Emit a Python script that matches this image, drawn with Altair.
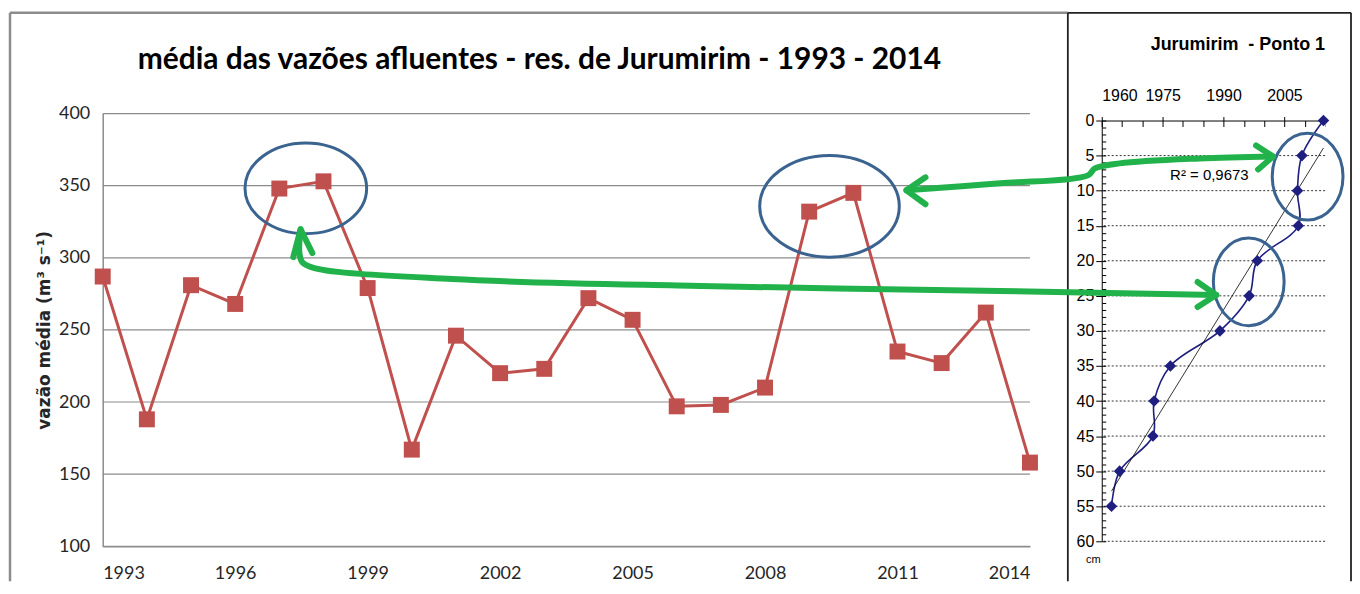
import altair as alt
import pandas as pd

# ---------------- left panel: mean inflow ----------------
anos = list(range(1993, 2015))
vazao_media = [287, 188, 281, 268, 348, 353, 279, 167, 246, 220, 223, 272,
               257, 197, 198, 210, 332, 345, 235, 227, 262, 158]
anos_rotulos = [1993, 1996, 1999, 2002, 2005, 2008, 2011, 2014]
vazao_rotulos = [100, 150, 200, 250, 300, 350, 400]

# ---------------- right panel: sediment core dating ----------------
profundidade = [0, 5, 10, 15, 20, 25, 30, 35, 40, 45, 50, 55]
ano_camada = [2014.6, 2009.3, 2008.2, 2008.4, 1998.3, 1996.3, 1989.1,
              1976.9, 1972.9, 1972.6, 1964.4, 1962.4]
ano_rotulos = [1960, 1975, 1990, 2005]
ano_marcas = [1960, 1965, 1970, 1975, 1980, 1985, 1990, 1995, 2000, 2005, 2010, 2015]
prof_rotulos = [0, 5, 10, 15, 20, 25, 30, 35, 40, 45, 50, 55, 60]
prof_marcas = list(range(0, 61))
r2_texto = ["R² = 0,9673"]
r2_ano = [1986.5]
r2_prof = [7.7]

# ---------------- annotations (data units of each panel) ----------------
elipse_esq_ano = [1997.6, 2009.46]
elipse_esq_vazao = [348.2, 335.7]
elipse_esq_rx = [61, 70]
elipse_esq_ry = [45.5, 51]
elipse_dir_ano = [2010.7, 1996.2]
elipse_dir_prof = [8.0, 23.0]
elipse_dir_rx = [35.5, 35.5]
elipse_dir_ry = [43.5, 44]

seta1_ano = [1911.9, 1935.0, 1956.6, 1958.3, 1964.4, 1984.1, 2002.2]
seta1_prof = [9.95, 8.96, 7.82, 6.83, 6.11, 5.40, 5.12]
seta1_pontaA_ano = [1916.6, 1911.9, 1916.6]
seta1_pontaA_prof = [8.10, 9.95, 11.94]
seta1_pontaB_ano = [1998.0, 2002.2, 1998.5]
seta1_pontaB_prof = [3.55, 5.12, 6.97]
seta2_ano = [1762.7, 1762.4, 1763.1, 1766.1, 1800.0, 1861.3, 1935.0, 1988.2]
seta2_prof = [15.50, 18.77, 20.19, 21.04, 22.61, 23.60, 24.31, 24.88]
seta2_pontaA_ano = [1760.9, 1762.7, 1765.6]
seta2_pontaA_prof = [19.48, 15.50, 18.91]
seta2_pontaB_ano = [1983.6, 1988.2, 1983.6]
seta2_pontaB_prof = [23.03, 24.88, 26.59]

VERMELHO = "#C0504D"
AZUL_ESC = "#1F1F80"
AZUL_ELIPSE = "#3B6390"
VERDE = "#22B24C"
CINZA = "#8C8C8C"
CALIBRI = "Lato"
ARIAL = "Liberation Sans"
SEM_BORDA = alt.ViewBackground(stroke="transparent", strokeWidth=0, strokeOpacity=0)


def elipse(df, xenc, yenc, rx, ry):
    m = max(rx, ry)
    a, b = rx / m, ry / m
    path = f"M {-a} 0 A {a} {b} 0 1 0 {a} 0 A {a} {b} 0 1 0 {-a} 0 Z"
    return alt.Chart(df).mark_point(shape=path, size=(2 * m) ** 2, filled=False,
                                    strokeWidth=3, color=AZUL_ELIPSE, opacity=1
                                    ).encode(x=xenc, y=yenc)


def moldura(x1, x2, y1, y2, cor, largura):
    um = alt.Data(values=[{}])
    esq = alt.Chart(um).mark_rule(color=cor, strokeWidth=largura).encode(
        x=alt.value(x1), y=alt.value(y1), y2=alt.value(y2))
    topo = alt.Chart(um).mark_rule(color=cor, strokeWidth=largura).encode(
        x=alt.value(x1), x2=alt.value(x2), y=alt.value(y1))
    return esq, topo


def borracha(x, y1, y2):
    return alt.Chart(alt.Data(values=[{}])).mark_rule(color="white", strokeWidth=2.5).encode(
        x=alt.value(x), y=alt.value(y1), y2=alt.value(y2))


# ======================= LEFT =======================
W_L, H_L = 930, 434
df_l = pd.DataFrame({"ano": anos, "vazao": vazao_media})
xs_l = alt.Scale(domain=[1993, 2014], nice=False, zero=False)
ys_l = alt.Scale(domain=[100, 400], nice=False, zero=False)

x_l = alt.X("ano:Q", scale=xs_l, axis=alt.Axis(
    values=anos_rotulos, format="d", title=None, grid=False, ticks=False,
    domainColor=CINZA, domainWidth=1.5, labelFont=CALIBRI, labelFontSize=18,
    labelColor="#262626", labelPadding=18))
y_l = alt.Y("vazao:Q", scale=ys_l, axis=alt.Axis(
    values=vazao_rotulos, title="vazão média (m³ s⁻¹)", grid=False,
    ticks=False, domainColor=CINZA, domainWidth=1.5,
    labelFont=CALIBRI, labelFontSize=18, labelColor="#262626", labelPadding=13,
    titleFont="DejaVu Sans", titleFontSize=17, titleFontWeight="bold",
    titleColor="#262626", titleAngle=270, titleX=-58, titleY=217,
    titleAlign="center", titleBaseline="middle"))

xn_l = alt.X("ano:Q", scale=xs_l, axis=None)
yn_l = alt.Y("vazao:Q", scale=ys_l, axis=None)

grade_l = alt.Chart(pd.DataFrame({"vazao": vazao_rotulos})).mark_rule(
    color=CINZA, strokeWidth=1.2).encode(y=yn_l)
linha_l = alt.Chart(df_l).mark_line(color=VERMELHO, strokeWidth=3).encode(x=x_l, y=y_l)
quad_l = alt.Chart(df_l).mark_square(color=VERMELHO, size=256, opacity=1).encode(
    x=xn_l, y=yn_l)

elipses_l = []
for cx, cy, rx, ry in zip(elipse_esq_ano, elipse_esq_vazao, elipse_esq_rx, elipse_esq_ry):
    d = pd.DataFrame({"ano": [cx], "vazao": [cy]})
    elipses_l.append(elipse(d, xn_l, yn_l, rx, ry))

fe, ft = moldura(-93, 968, -101, 469, CINZA, 2.5)

esquerda = alt.layer(fe, ft, grade_l, borracha(W_L + 1.5, 2, H_L - 2), linha_l, quad_l,
                     *elipses_l).resolve_axis(
    x="independent", y="independent").properties(
    width=W_L, height=H_L, view=SEM_BORDA,
    title=alt.TitleParams("média das vazões afluentes - res. de Jurumirim - 1993 - 2014",
                          font=CALIBRI, fontSize=30, fontWeight="bold", color="black",
                          anchor="middle", frame="group", dx=-27, offset=-64))

# ======================= RIGHT =======================
W_R, H_R = 224, 429
df_r = pd.DataFrame({"ano": ano_camada, "prof": profundidade})
xs_r = alt.Scale(domain=[1960, 2015], nice=False, zero=False)
ys_r = alt.Scale(domain=[0, 60], range=[7, 429], nice=False, zero=False)

x_r = alt.X("ano:Q", scale=xs_r, axis=alt.Axis(
    orient="top", values=ano_rotulos, format="d", offset=-7, title=None, grid=False,
    tickSize=4, tickColor="black", domainColor="black", labelFont=ARIAL,
    labelFontSize=16, labelColor="black", labelPadding=13))
y_r = alt.Y("prof:Q", scale=ys_r, axis=alt.Axis(
    orient="left", values=prof_rotulos, title="cm", grid=False,
    tickSize=6, tickColor="black", domainColor="black",
    labelFont=ARIAL, labelFontSize=16, labelColor="black", labelPadding=2,
    titleAngle=0, titleX=-9, titleY=447, titleFont=ARIAL, titleFontSize=11,
    titleFontWeight="normal", titleColor="black", titleAlign="center",
    titleBaseline="middle"))

xn = alt.X("ano:Q", scale=xs_r, axis=None)
yn = alt.Y("prof:Q", scale=ys_r, axis=None)

grade_r = alt.Chart(pd.DataFrame({"prof": prof_rotulos[1:]})).mark_rule(
    color="black", strokeWidth=0.8, strokeDash=[2, 2]).encode(y=yn)
linha_r = alt.Chart(df_r).mark_line(color=AZUL_ESC, strokeWidth=1.6,
                                    interpolate="catmull-rom").encode(
    x=x_r, y=y_r, order="prof:Q")
marcas_menores = alt.Chart(df_r).mark_point(opacity=0).encode(
    x=alt.X("ano:Q", scale=xs_r, axis=alt.Axis(
        orient="bottom", offset=-422, values=ano_marcas, labels=False, domain=False,
        grid=False, tickSize=6, tickColor="black", title=None)),
    y=alt.Y("prof:Q", scale=ys_r, axis=alt.Axis(
        orient="right", offset=-224, values=prof_marcas, labels=False, domain=False,
        grid=False, tickSize=4, tickColor="black", title=None)))
pontos_r = alt.Chart(df_r).mark_point(shape="diamond", filled=True, size=135,
                                      color=AZUL_ESC, opacity=1).encode(x=xn, y=yn)
tendencia = alt.Chart(df_r).transform_regression("ano", "prof").mark_line(
    color="black", strokeWidth=0.8).encode(x=xn, y=yn)
r2 = alt.Chart(pd.DataFrame({"ano": r2_ano, "prof": r2_prof, "t": r2_texto})).mark_text(
    font=ARIAL, fontSize=15, color="black", align="center", baseline="middle").encode(
    x=xn, y=yn, text="t:N")

elipses_r = []
for cx, cy, rx, ry in zip(elipse_dir_ano, elipse_dir_prof, elipse_dir_rx, elipse_dir_ry):
    d = pd.DataFrame({"ano": [cx], "prof": [cy]})
    elipses_r.append(elipse(d, xn, yn, rx, ry))

setas = []
for nome, xs, ys, interp in [
    ("s1", seta1_ano, seta1_prof, "catmull-rom"),
    ("s1a", seta1_pontaA_ano, seta1_pontaA_prof, "linear"),
    ("s1b", seta1_pontaB_ano, seta1_pontaB_prof, "linear"),
    ("s2", seta2_ano, seta2_prof, "catmull-rom"),
    ("s2a", seta2_pontaA_ano, seta2_pontaA_prof, "linear"),
    ("s2b", seta2_pontaB_ano, seta2_pontaB_prof, "linear"),
]:
    d = pd.DataFrame({"ano": xs, "prof": ys, "ordem": list(range(len(xs)))})
    setas.append(alt.Chart(d).mark_line(color=VERDE, strokeWidth=6, strokeCap="round",
                                        strokeJoin="round", interpolate=interp).encode(
        x=xn, y=yn, order="ordem:Q"))

de, dt = moldura(-34, 250, -101, 469, "#222222", 1.8)
dd = alt.Chart(alt.Data(values=[{}])).mark_rule(color="#222222", strokeWidth=1.8).encode(
    x=alt.value(250), y=alt.value(-101), y2=alt.value(469))

direita = alt.layer(de, dt, dd, borracha(W_R + 1.5, 8, H_R - 2), grade_r, linha_r,
                    marcas_menores, tendencia, pontos_r, r2,
                    *elipses_r, *setas).resolve_axis(
    x="independent", y="independent").properties(
    width=W_R, height=H_R, view=SEM_BORDA,
    title=alt.TitleParams("Jurumirim \u00a0- Ponto 1", font=ARIAL, fontSize=18,
                          fontWeight="bold", color="black", anchor="end",
                          frame="group", offset=-42))

chart = alt.hconcat(esquerda, direita, spacing=72, bounds="flush").properties(
    padding={"left": 0, "top": 2, "right": 0, "bottom": 0},
    background="white"
).configure_view(stroke="transparent", strokeWidth=0, strokeOpacity=0)

chart.save("out.html", embed_options={"renderer": "svg", "actions": False})
